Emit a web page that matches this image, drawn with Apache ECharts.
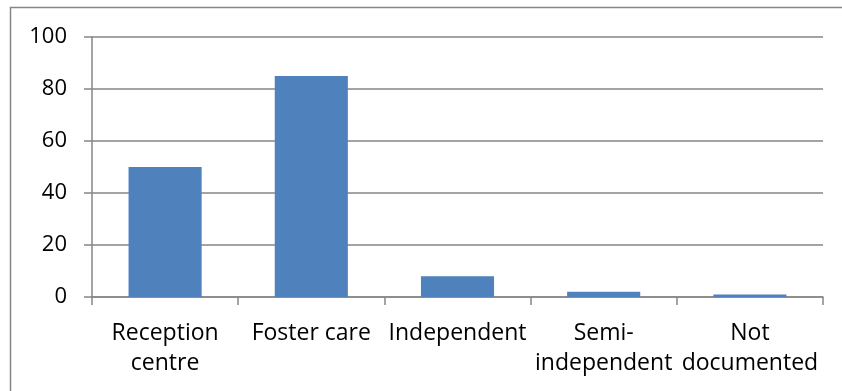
<!DOCTYPE html>
<html>
<head>
<meta charset="utf-8">
<script src="https://cdn.jsdelivr.net/npm/echarts@6/dist/echarts.min.js"></script>
<style>
  html, body { margin: 0; padding: 0; background: #fff; }
  #chart { width: 842px; height: 391px; }
</style>
</head>
<body>
<div id="chart"></div>
<script>
// Placement of children at the time of assessment
const categories = ['Reception\ncentre', 'Foster care', 'Independent', 'Semi-\nindependent', 'Not\ndocumented'];
const counts = [50, 85, 8, 2, 1];
const yTicks = { min: 0, max: 100, interval: 20 };

const lineGray = '#868686';
const fontFamily = '"Open Sans", "Liberation Sans", sans-serif';

const chart = echarts.init(document.getElementById('chart'), null, { renderer: 'canvas' });
chart.setOption({
  animation: false,
  backgroundColor: '#ffffff',
  grid: { left: 92, right: 19, top: 37, bottom: 94, containLabel: false },
  graphic: [{
    type: 'rect',
    shape: { x: 10.5, y: 7.5, width: 900, height: 500 },
    style: { fill: 'none', stroke: lineGray, lineWidth: 1.5 },
    silent: true
  }],
  xAxis: {
    type: 'category',
    data: categories,
    boundaryGap: true,
    axisLine: { show: true, lineStyle: { color: lineGray, width: 1.5 } },
    axisTick: { show: true, length: 8, alignWithLabel: false, lineStyle: { color: lineGray, width: 1.5 } },
    axisLabel: {
      interval: 0,
      margin: 21,
      color: '#000',
      fontFamily: fontFamily,
      fontSize: 23,
      lineHeight: 30,
      align: 'center'
    }
  },
  yAxis: {
    type: 'value',
    min: yTicks.min,
    max: yTicks.max,
    interval: yTicks.interval,
    axisLine: { show: true, lineStyle: { color: lineGray, width: 1.5 } },
    axisTick: { show: true, length: 8, lineStyle: { color: lineGray, width: 1.5 } },
    splitLine: { show: true, lineStyle: { color: lineGray, width: 1.5 } },
    axisLabel: {
      margin: 25,
      color: '#000',
      fontFamily: fontFamily,
      fontSize: 22
    }
  },
  series: [{
    type: 'bar',
    data: counts,
    barWidth: '50%',
    itemStyle: { color: '#4F81BD' }
  }]
});
</script>
</body>
</html>
